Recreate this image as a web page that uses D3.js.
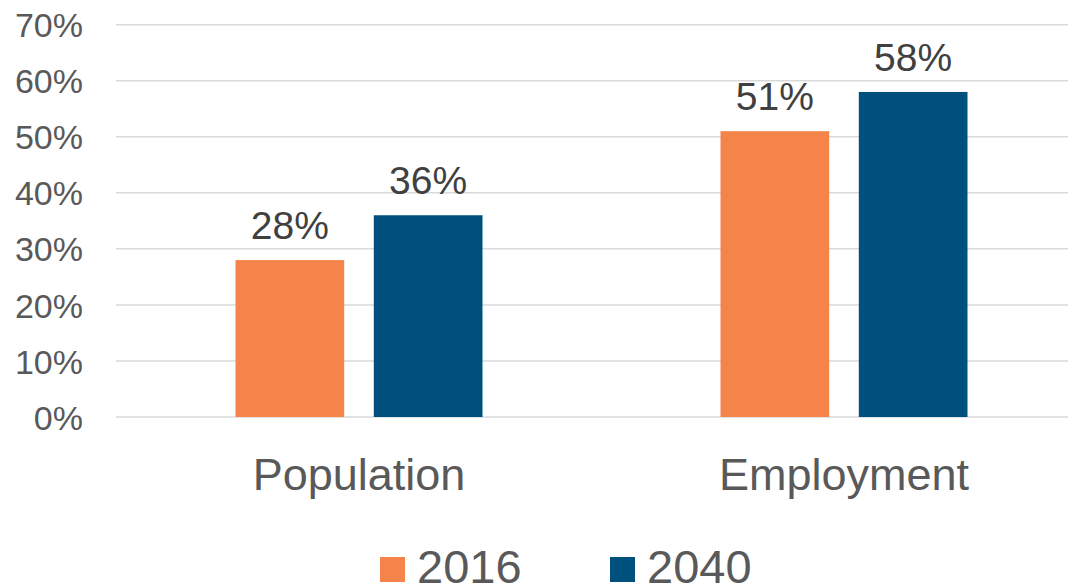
<!DOCTYPE html>
<html><head><meta charset="utf-8">
<script src="https://cdn.jsdelivr.net/npm/d3@7"></script>
<style>html,body{margin:0;padding:0;background:#fff;overflow:hidden}</style>
</head><body>
<svg id="chart" width="1068" height="587"></svg>
<script>
const categories = ["Population", "Employment"];
const seriesNames = ["2016", "2040"];
const values2016 = [28, 51];
const values2040 = [36, 58];
const yTicks = [0, 10, 20, 30, 40, 50, 60, 70];
const colors = ["#F4844A", "#00507E"];

const svg = d3.select("#chart");
const font = "'Liberation Sans', Arial, sans-serif";
const y = d3.scaleLinear().domain([0, 70]).range([417, 24.7]);
const x0 = d3.scaleBand().domain(categories).range([116.5, 1086.5]).paddingInner(0).paddingOuter(0);
const x1 = d3.scaleBand().domain(seriesNames).range([119, 485 - 119]).paddingInner(0.214);

// gridlines
svg.append("g").selectAll("line").data(yTicks).join("line")
  .attr("x1", 116).attr("x2", 1068)
  .attr("y1", d => y(d)).attr("y2", d => y(d))
  .attr("stroke", "#d9d9d9").attr("stroke-width", 1.5);

// y labels
svg.append("g").selectAll("text").data(yTicks).join("text")
  .attr("x", 83).attr("y", d => y(d) + 12.6)
  .attr("text-anchor", "end").attr("font-family", font).attr("font-size", 34)
  .attr("fill", "#595959").text(d => d + "%");

const rows = categories.map((c, i) => ({cat: c, vals: [values2016[i], values2040[i]]}));
const g = svg.append("g").selectAll("g").data(rows).join("g")
  .attr("transform", d => `translate(${x0(d.cat)},0)`);
g.selectAll("rect").data(d => d.vals.map((v, j) => ({s: seriesNames[j], v, j}))).join("rect")
  .attr("x", d => x1(d.s)).attr("width", x1.bandwidth())
  .attr("y", d => y(d.v)).attr("height", d => y(0) - y(d.v))
  .attr("fill", d => colors[d.j]);
g.selectAll("text").data(d => d.vals.map((v, j) => ({s: seriesNames[j], v, j}))).join("text")
  .attr("x", d => x1(d.s) + x1.bandwidth() / 2).attr("y", d => y(d.v) - 21)
  .attr("text-anchor", "middle").attr("font-family", font).attr("font-size", 39)
  .attr("fill", "#404040").text(d => d.v + "%");

// category labels
svg.append("g").selectAll("text").data(categories).join("text")
  .attr("x", d => x0(d) + x0.bandwidth() / 2).attr("y", 490)
  .attr("text-anchor", "middle").attr("font-family", font).attr("font-size", 45)
  .attr("fill", "#595959").text(d => d);

// legend
const legX = [380, 610];
const leg = svg.append("g").selectAll("g").data(seriesNames).join("g")
  .attr("transform", (d, i) => `translate(${legX[i]},0)`);
leg.append("rect").attr("x", 0).attr("y", 557).attr("width", 25).attr("height", 25)
  .attr("fill", (d, i) => colors[i]);
leg.append("text").attr("x", 37).attr("y", 583).attr("font-family", font).attr("font-size", 47)
  .attr("fill", "#595959").text(d => d);
</script>
</body></html>
